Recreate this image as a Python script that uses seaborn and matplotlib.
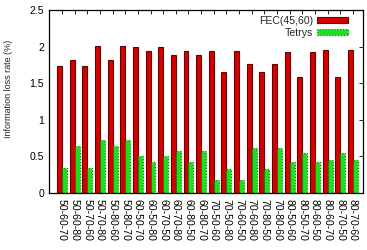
import pandas as pd
import numpy as np
import matplotlib
matplotlib.use("Agg")
import matplotlib.pyplot as plt
import seaborn as sns
from matplotlib.ticker import FuncFormatter

# data
configs = ['50-60-70', '50-60-80', '50-70-60', '50-70-80', '50-80-60', '50-80-70',
           '60-50-70', '60-50-80', '60-70-50', '60-70-80', '60-80-50', '60-80-70',
           '70-50-60', '70-50-80', '70-60-50', '70-60-80', '70-80-50', '70-80-60',
           '80-50-60', '80-50-70', '80-60-50', '80-60-70', '80-70-50', '80-70-60']
fec = [1.74, 1.82, 1.74, 2.01, 1.82, 2.01, 1.99, 1.94, 1.99, 1.89, 1.94, 1.89,
       1.94, 1.65, 1.94, 1.76, 1.65, 1.76, 1.93, 1.59, 1.93, 1.95, 1.59, 1.95]
tetrys = [0.34, 0.64, 0.34, 0.73, 0.64, 0.73, 0.51, 0.43, 0.51, 0.57, 0.43, 0.57,
          0.18, 0.33, 0.18, 0.61, 0.33, 0.61, 0.42, 0.55, 0.42, 0.45, 0.55, 0.45]
series = ['FEC(45,60)', 'Tetrys']
yticks = [0, 0.5, 1, 1.5, 2, 2.5]

df = pd.DataFrame({
    'config': configs * 2,
    'scheme': [series[0]] * len(configs) + [series[1]] * len(configs),
    'loss': fec + tetrys,
})

sns.set_style('white')
plt.rcParams['font.family'] = ['Liberation Sans', 'DejaVu Sans']

fig = plt.figure(figsize=(3.67, 2.5), dpi=100)
ax = fig.add_axes([49 / 367, 57 / 250, 314 / 367, 183 / 250])

sns.barplot(data=df, x='config', y='loss', hue='scheme', order=configs,
            hue_order=series, palette=['#d40000', '#1fe01f'], width=0.78,
            saturation=1, ax=ax, legend=True)

# gnuplot-like borders on the bars
edges = ['#6a0000', '#007a00']
styles = ['-', ':']
for cont, ec, ls in zip(ax.containers, edges, styles):
    for bar in cont:
        bar.set_edgecolor(ec)
        bar.set_linewidth(0.8)
        bar.set_linestyle(ls)

ax.set_xlim(-1.03, 23.8)
ax.set_ylim(0, 2.5)
ax.set_yticks(yticks)
ax.yaxis.set_major_formatter(FuncFormatter(lambda v, p: '{:g}'.format(v)))
ax.set_xlabel('')
ax.set_ylabel('Information loss rate (%)', fontsize=6.5, color='#222222')
ax.yaxis.set_label_coords(-0.115, 0.568)

ax.tick_params(axis='both', direction='in', length=3, width=0.6,
               top=True, right=True, labelsize=7.6, colors='black')
ax.tick_params(axis='x', pad=4)
plt.setp(ax.get_xticklabels(), rotation=-90, va='top', ha='center')
for s in ax.spines.values():
    s.set_visible(True)
    s.set_color('black')
    s.set_linewidth(0.9)

leg = ax.legend(loc='upper right', bbox_to_anchor=(0.97, 1.0), frameon=False,
                markerfirst=False, fontsize=7.6, handlelength=2.9,
                handleheight=0.5, handletextpad=0.4, labelspacing=0.2,
                borderaxespad=0.15)
for h, ec, ls in zip(leg.legend_handles, edges, styles):
    h.set_edgecolor(ec)
    h.set_linewidth(0.8)
    h.set_linestyle(ls)

fig.savefig('out.png', dpi=100)
